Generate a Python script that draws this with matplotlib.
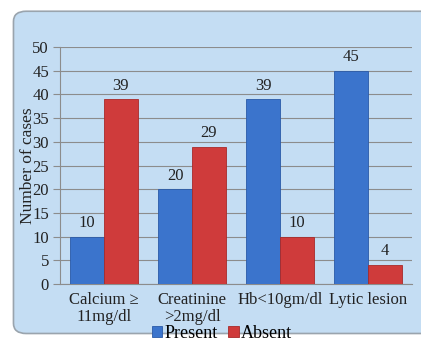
import matplotlib

matplotlib.use("Agg")

import matplotlib.pyplot as plt
import numpy as np
from matplotlib.patches import FancyBboxPatch

categories = ["Calcium \u2265\n11mg/dl", "Creatinine\n>2mg/dl", "Hb<10gm/dl", "Lytic lesion"]
present = [10, 20, 39, 45]
absent = [39, 29, 10, 4]
y_ticks = [0, 5, 10, 15, 20, 25, 30, 35, 40, 45, 50]

plt.rcParams["font.family"] = ["Liberation Serif", "DejaVu Serif"]

fig = plt.figure(figsize=(4.21, 3.41), dpi=100)
fig.patch.set_facecolor("white")

# rounded light-blue panel behind the chart
panel = FancyBboxPatch((0.032, 0.022), 1.0, 0.945, boxstyle="round,pad=0,rounding_size=0.03",
                       transform=fig.transFigure, facecolor="#c4ddf3", edgecolor="#9aa4ad",
                       linewidth=1.2, zorder=-5)
fig.patches.append(panel)

ax = fig.add_axes([0.1425, 0.167, 0.836, 0.695])
ax.set_facecolor("none")
ax.set_zorder(2)

x = np.arange(len(categories))
w = 0.385
b1 = ax.bar(x - w / 2, present, w, color="#3b74cc", edgecolor="#2a5aa8", linewidth=0.6,
            label="Present", zorder=3)
b2 = ax.bar(x + w / 2, absent, w, color="#cf3b3b", edgecolor="#a82a2a", linewidth=0.6,
            label="Absent", zorder=3)
for bars in (b1, b2):
    for rect in bars:
        h = rect.get_height()
        ax.text(rect.get_x() + rect.get_width() / 2, h + 1.2, f"{h:g}", ha="center", va="bottom",
                fontsize=12, color="#222222")

ax.set_xlim(-0.5, len(categories) - 0.5)
ax.set_ylim(0, 50)
ax.set_yticks(y_ticks)
ax.yaxis.grid(True, color="#8c8c8c", linewidth=0.8, zorder=0)
ax.set_axisbelow(True)
ax.tick_params(axis="y", length=5, color="#8c8c8c", labelsize=12, pad=3, labelcolor="#222222")
ax.tick_params(axis="x", length=0, labelsize=12, pad=6, labelcolor="#222222")
ax.set_xticks(x)
ax.set_xticklabels(categories, linespacing=1.05)
for s in ["top", "right"]:
    ax.spines[s].set_visible(False)
ax.spines["left"].set_color("#8c8c8c")
ax.spines["bottom"].set_color("#8c8c8c")
ax.set_ylabel("Number of cases", fontsize=12.5, labelpad=-3, color="#222222")

ax.legend(loc="upper center", bbox_to_anchor=(0.46, -0.135), ncol=2, frameon=False,
          fontsize=13, handlelength=0.6, handleheight=0.6, handletextpad=0.1,
          columnspacing=0.6, borderpad=0)

fig.savefig("out.png", dpi=100)
